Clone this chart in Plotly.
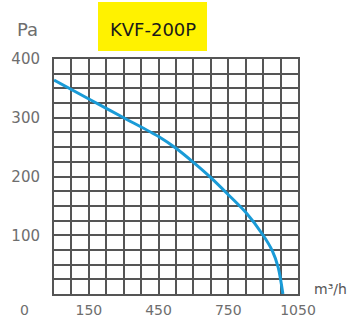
import plotly.graph_objects as go

# Data
flow = [0, 150, 300, 450, 525, 600, 675, 750, 825, 900, 940, 965, 985]
pressure = [364, 332, 300, 268, 248, 224, 198, 169, 139, 100, 73, 45, 0]

x_grid = list(range(0, 1051, 75))
x_labels = {150: "150", 450: "450", 750: "750", 1050: "1050"}
y_grid = list(range(0, 401, 25))
y_labels = {100: "100", 200: "200", 300: "300", 400: "400"}

title = "KVF-200P"
y_unit = "Pa"
x_unit = "m³/h"

FONT = "DejaVu Sans, Liberation Sans, Arial, sans-serif"
GRID = "#555555"
TXT = "#6e6e6e"

fig = go.Figure()
fig.add_trace(go.Scatter(
    x=flow, y=pressure, mode="lines",
    line=dict(color="#1a9bd7", width=3, shape="spline", smoothing=0.8),
    hoverinfo="skip", showlegend=False,
))

fig.update_layout(
    width=353, height=318,
    margin=dict(l=54, r=55, t=59, b=24),
    paper_bgcolor="white", plot_bgcolor="white",
    font=dict(family=FONT, color=TXT, size=15),
    xaxis=dict(
        range=[0, 1050], tickmode="array", tickvals=x_grid,
        ticktext=[x_labels.get(v, "") for v in x_grid],
        showgrid=True, gridcolor=GRID, gridwidth=2,
        zeroline=False, showline=True, linecolor=GRID, linewidth=2, mirror=True,
        ticks="", ticklabelstandoff=2, tickfont=dict(size=14, color=TXT),
        fixedrange=True, automargin=False,
    ),
    yaxis=dict(
        range=[0, 400], tickmode="array", tickvals=y_grid,
        ticktext=[y_labels.get(v, "") for v in y_grid],
        showgrid=True, gridcolor=GRID, gridwidth=2,
        zeroline=False, showline=True, linecolor=GRID, linewidth=2, mirror=True,
        ticks="", ticklabelstandoff=9, tickfont=dict(size=15, color=TXT),
        fixedrange=True, automargin=False,
    ),
    shapes=[dict(
        type="rect", xref="paper", yref="paper",
        x0=(98 - 54) / 244, x1=(207 - 54) / 244,
        y0=(294 - 51) / 235, y1=(294 - 2) / 235,
        fillcolor="#fff200", line=dict(width=0), layer="below",
    )],
    annotations=[
        dict(text=title, xref="paper", yref="paper",
             x=(153 - 54) / 244, y=(294 - 29.5) / 235,
             showarrow=False, xanchor="center", yanchor="middle",
             font=dict(size=18, color="#1a1a1a", family=FONT)),
        dict(text=y_unit, xref="paper", yref="paper",
             x=(27.5 - 54) / 244, y=(294 - 29) / 235,
             showarrow=False, xanchor="center", yanchor="middle",
             font=dict(size=18, color=TXT, family=FONT)),
        dict(text=x_unit, xref="paper", yref="paper",
             x=(330.5 - 54) / 244, y=(294 - 289) / 235,
             showarrow=False, xanchor="center", yanchor="middle",
             font=dict(size=14, color="#555555", family=FONT)),
        dict(text="0", xref="paper", yref="paper",
             x=(24 - 54) / 244, y=(294 - 310) / 235,
             showarrow=False, xanchor="center", yanchor="middle",
             font=dict(size=14, color=TXT, family=FONT)),
    ],
)

fig.write_html(
    "out.html",
    config={"displayModeBar": False},
    post_script="document.body.style.margin='0';document.body.style.overflow='hidden';",
)
